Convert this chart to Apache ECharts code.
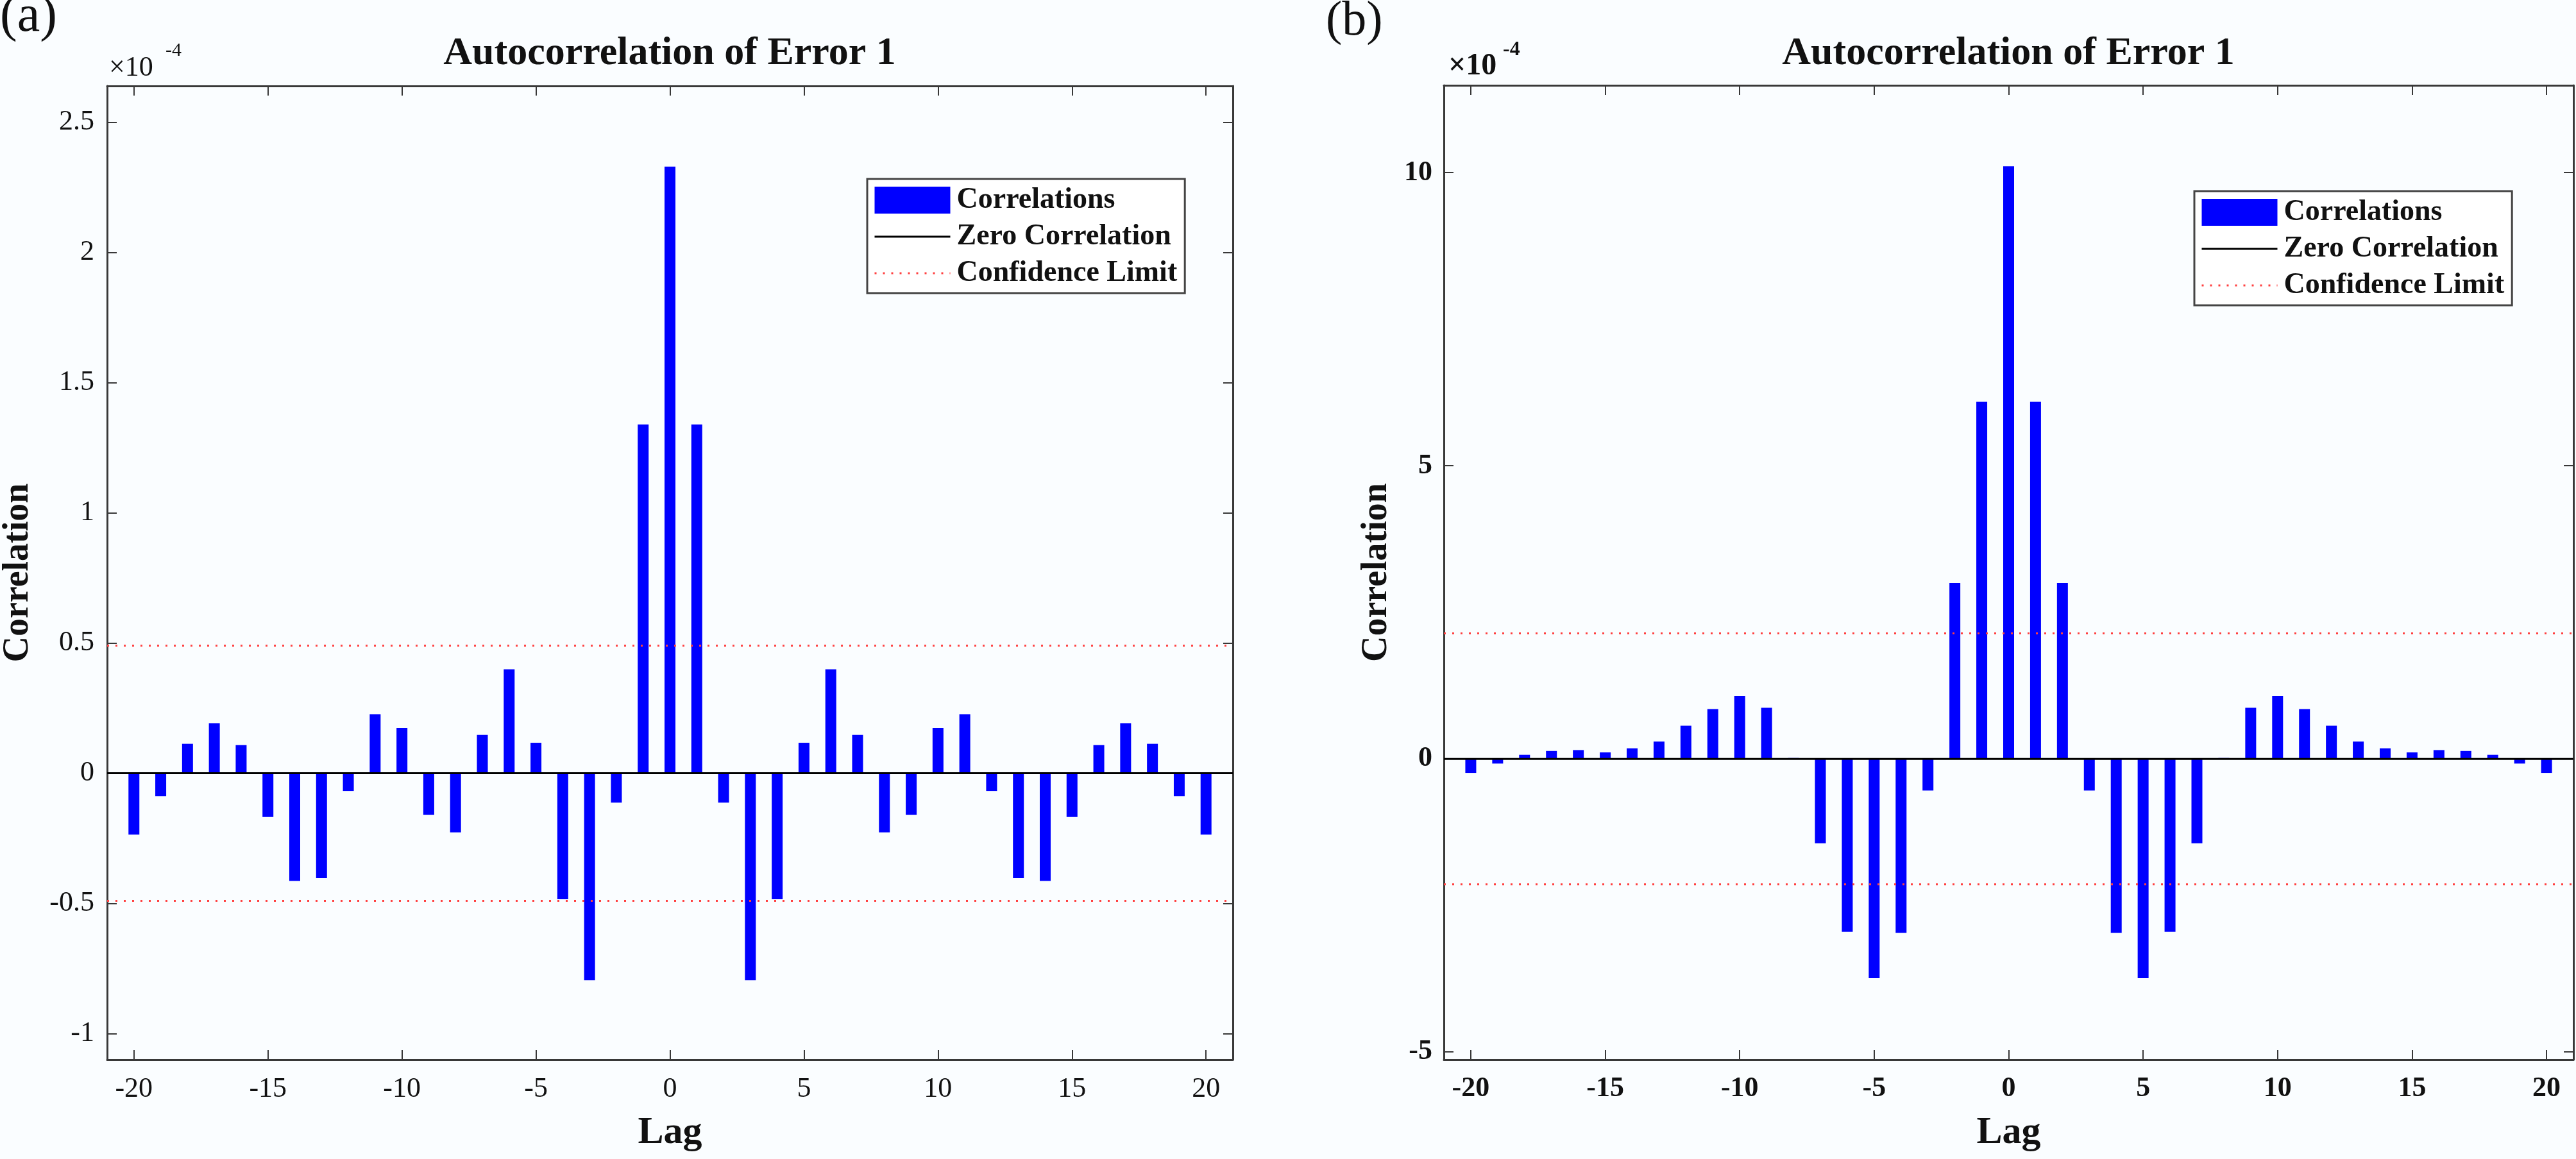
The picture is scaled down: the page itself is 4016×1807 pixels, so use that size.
<!DOCTYPE html>
<html>
<head>
<meta charset="utf-8">
<script src="https://cdn.jsdelivr.net/npm/echarts@6/dist/echarts.min.js"></script>
<style>
html,body{margin:0;padding:0;background:#fafdff;}
#c{width:4016px;height:1807px;}
</style>
</head>
<body>
<div id="c"></div>
<script>
// ---- data (values in units of 1e-4, as on the axes) ----
const lags = [-20,-19,-18,-17,-16,-15,-14,-13,-12,-11,-10,-9,-8,-7,-6,-5,-4,-3,-2,-1,0,
              1,2,3,4,5,6,7,8,9,10,11,12,13,14,15,16,17,18,19,20];
const corrA = [-0.236,-0.088,0.113,0.192,0.108,-0.168,-0.414,-0.403,-0.068,0.227,0.174,-0.160,-0.227,0.147,0.399,0.117,-0.484,-0.795,-0.113,1.34,2.33,
               1.34,-0.113,-0.795,-0.484,0.117,0.399,0.147,-0.227,-0.160,0.174,0.227,-0.068,-0.403,-0.414,-0.168,0.108,0.192,0.113,-0.088,-0.236];
const corrB = [-0.24,-0.08,0.07,0.135,0.15,0.11,0.18,0.295,0.565,0.85,1.075,0.87,0.015,-1.44,-2.95,-3.74,-2.97,-0.54,3.00,6.09,10.11,
               6.09,3.00,-0.54,-2.97,-3.74,-2.95,-1.44,0.015,0.87,1.075,0.85,0.565,0.295,0.18,0.11,0.15,0.135,0.07,-0.08,-0.24];
const confA = 0.49;
const confB = 2.14;
const lagLimits = [-21, 21];
const yLimitsA = [-1.1, 2.64];
const yLimitsB = [-5.13, 11.49];
const titleText = 'Autocorrelation of Error 1';
const legendNames = ['Correlations', 'Zero Correlation', 'Confidence Limit'];

const FONT = '"Liberation Serif","Times New Roman",serif';
const AXC = '#383838';
const CLEAR = 'rgba(0,0,0,0)';

function axisCommon(extra) {
  return Object.assign({
    type: 'value',
    axisLine: { show: true, onZero: false, lineStyle: { color: AXC, width: 3 } },
    axisTick: { show: true, inside: true, length: 15, lineStyle: { color: AXC, width: 2 } },
    splitLine: { show: false }
  }, extra);
}

const panels = [
  { grid: { left: 167, top: 134, width: 1755, height: 1518 }, y: corrA, conf: confA, yl: yLimitsA, split: 7,
    bold: 'normal', yGap: 110, ylm: 20, cx: 1044 },
  { grid: { left: 2251, top: 133, width: 1761, height: 1519 }, y: corrB, conf: confB, yl: yLimitsB, split: 3,
    bold: 'bold', yGap: 76, ylm: 18, cx: 3131 }
];

const grids = [], xAxes = [], yAxes = [], series = [];
panels.forEach((p, g) => {
  grids.push(p.grid);
  const lbl = { fontFamily: FONT, fontSize: 44, color: '#111', fontWeight: p.bold };
  xAxes.push(axisCommon({
    gridIndex: g, position: 'bottom', min: lagLimits[0], max: lagLimits[1], splitNumber: 8,
    axisLabel: Object.assign({ showMinLabel: false, showMaxLabel: false, margin: 24 }, lbl),
    name: 'Lag', nameLocation: 'middle', nameGap: 84,
    nameTextStyle: { fontFamily: FONT, fontSize: 60, fontWeight: 'bold', color: '#111' }
  }));
  xAxes.push(axisCommon({
    gridIndex: g, position: 'top', min: lagLimits[0], max: lagLimits[1], splitNumber: 8,
    axisLabel: { show: false }
  }));
  yAxes.push(axisCommon({
    gridIndex: g, position: 'left', min: p.yl[0], max: p.yl[1], splitNumber: p.split,
    axisLabel: Object.assign({ showMinLabel: false, showMaxLabel: false, margin: p.ylm }, lbl),
    name: 'Correlation', nameLocation: 'middle', nameRotate: 90, nameGap: p.yGap,
    nameTextStyle: { fontFamily: FONT, fontSize: 56, fontWeight: 'bold', color: '#111' }
  }));
  yAxes.push(axisCommon({
    gridIndex: g, position: 'right', min: p.yl[0], max: p.yl[1], splitNumber: p.split,
    axisLabel: { show: false }
  }));
  const xi = g * 2, yi = g * 2;
  series.push({
    type: 'bar', name: legendNames[0], xAxisIndex: xi, yAxisIndex: yi,
    data: lags.map((l, i) => [l, p.y[i]]), barWidth: 17,
    itemStyle: { color: '#0000ff' }, z: 2
  });
  series.push({
    type: 'line', name: legendNames[1], xAxisIndex: xi, yAxisIndex: yi,
    data: [[lagLimits[0], 0], [lagLimits[1], 0]], symbol: 'none',
    itemStyle: { color: CLEAR, borderColor: CLEAR },
    lineStyle: { color: '#000', width: 3 }, z: 3
  });
  [p.conf, -p.conf].forEach(c => {
    series.push({
      type: 'line', name: legendNames[2], xAxisIndex: xi, yAxisIndex: yi,
      data: [[lagLimits[0], c], [lagLimits[1], c]], symbol: 'none',
      itemStyle: { color: CLEAR, borderColor: CLEAR },
      lineStyle: { color: '#ff4040', width: 3, type: [3, 10] }, z: 3
    });
  });
});

function legendAt(left, top) {
  const hide = { color: CLEAR, borderColor: CLEAR, opacity: 0 };
  return {
    left: left, top: top, orient: 'vertical', selectedMode: false,
    data: [
      { name: legendNames[0], icon: 'rect' },
      { name: legendNames[1], itemStyle: hide, lineStyle: { color: '#000', width: 3 } },
      { name: legendNames[2], itemStyle: hide, lineStyle: { color: '#ff4040', width: 3, type: [3, 10] } }
    ],
    itemWidth: 118, itemHeight: 42, itemGap: 11,
    padding: [10, 12, 8, 10],
    backgroundColor: '#ffffff', borderColor: '#444', borderWidth: 3,
    textStyle: { fontFamily: FONT, fontSize: 46, lineHeight: 46, fontWeight: 'bold', color: '#111', padding: [0, 0, 0, 5] }
  };
}

function txt(x, y, text, size, weight, align) {
  return { type: 'text', x: x, y: y, z: 10,
    style: { text: text, font: weight + ' ' + size + 'px ' + FONT, fill: '#111', align: align || 'left', verticalAlign: 'top' } };
}

const option = {
  backgroundColor: '#fafdff',
  animation: false,
  grid: grids, xAxis: xAxes, yAxis: yAxes, series: series,
  legend: [legendAt(1352, 279), legendAt(3421, 298)],
  graphic: [
    txt(0, -13, '(a)', 80, 'normal'),
    txt(2067, -4, '(b)', 76, 'normal'),
    txt(panels[0].cx, 53, titleText, 62, 'bold', 'center'),
    txt(panels[1].cx, 53, titleText, 62, 'bold', 'center'),
    txt(170, 84, '×10', 44, 'normal'),
    txt(258, 64, '-4', 30, 'normal'),
    txt(2258, 80, '×10', 48, 'bold'),
    txt(2343, 62, '-4', 32, 'bold')
  ]
};
const chart = echarts.init(document.getElementById('c'));
chart.setOption(option);
</script>
</body>
</html>
